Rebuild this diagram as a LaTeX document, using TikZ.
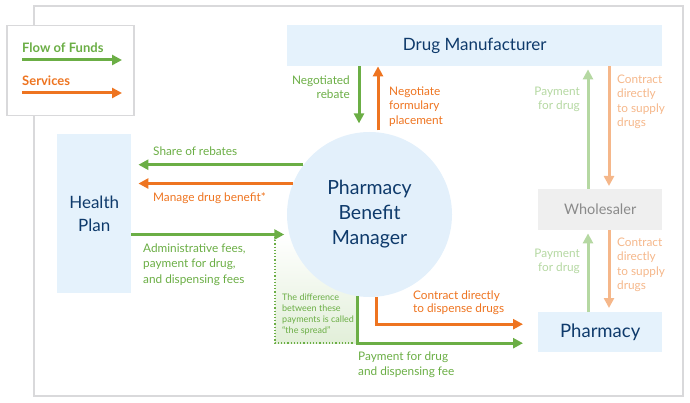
\documentclass[tikz,border=0pt]{standalone}
\usepackage{fontspec}
\setmainfont{Lato}
\usetikzlibrary{arrows.meta,calc}
\definecolor{fgreen}{HTML}{6BAE45}
\definecolor{forange}{HTML}{EE7420}
\definecolor{lgreen}{HTML}{B5D8A2}
\definecolor{lorange}{HTML}{F5B78A}
\definecolor{navy}{HTML}{0E3A6B}
\definecolor{boxblue}{HTML}{E5F2FC}
\definecolor{circblue}{HTML}{E3F0FB}
\definecolor{wsfill}{HTML}{EFEFEF}
\definecolor{wstext}{HTML}{8A8A8A}
\definecolor{framecol}{HTML}{D9D9DB}
\definecolor{spreadcol}{HTML}{E2EFD9}
\tikzset{
  tip/.style={-{Triangle[length=10pt,width=10pt]}},
  garrow/.style={tip, draw=fgreen, line width=3pt},
  oarrow/.style={tip, draw=forange, line width=3pt},
  lgarrow/.style={tip, draw=lgreen, line width=3pt},
  loarrow/.style={tip, draw=lorange, line width=3pt},
  entity/.style={fill=boxblue, text=navy, inner sep=0pt, font=\fontsize{17}{21}\selectfont},
  lbl/.style={inner sep=0pt, font=\fontsize{11.8}{14.5}\selectfont},
  lblL/.style={lbl, anchor=north west, align=left},
  lblR/.style={lbl, anchor=north east, align=right},
}
\begin{document}
\begin{tikzpicture}[x=1pt,y=-1pt]
\useasboundingbox (0,0) rectangle (690,403);
% outer frame
\draw[framecol, line width=1.5pt] (34,6) rectangle (683,396);
% legend
\node[draw=framecol, line width=1.5pt, fill=white, minimum width=127pt, minimum height=90pt, anchor=north west, inner sep=0pt] (legend) at (6,25) {};
\node[anchor=west, inner sep=0pt, text=fgreen, font=\fontsize{13}{15}\selectfont\bfseries] (lfunds) at (22,48) {Flow of Funds};
\node[anchor=west, inner sep=0pt, text=forange, font=\fontsize{13}{15}\selectfont\bfseries] (lserv) at (22,81) {Services};
\draw[garrow] ([yshift=-12pt]lfunds.west) -- ++(100,0);
\draw[oarrow] ([yshift=-12pt]lserv.west) -- ++(100,0);
% spread shading
\shade[bottom color=spreadcol, top color=white] (275,235) rectangle (359,343);
% entities
\node[entity, minimum width=375pt, minimum height=41pt, anchor=north west] (dm) at (287,25) {Drug Manufacturer};
\node[entity, minimum width=74pt, minimum height=159pt, anchor=north west, align=center, font=\fontsize{17}{23}\selectfont] (hp) at (57,134) {Health\\Plan};
\node[entity, fill=wsfill, text=wstext, minimum width=124pt, minimum height=41pt, anchor=north west, font=\fontsize{14.5}{18}\selectfont] (ws) at (538,189) {Wholesaler};
\node[entity, minimum width=124pt, minimum height=40pt, anchor=north west, font=\fontsize{18.5}{22}\selectfont] (ph) at (538,312) {Pharmacy};
\node[circle, fill=circblue, text=navy, minimum size=165pt, inner sep=0pt, align=center, font=\fontsize{19.5}{25}\selectfont] (pbm) at (369.5,214.5) {Pharmacy\\Benefit\\Manager};
% PBM <-> manufacturer
\draw[garrow, shorten >=1pt] ([xshift=72pt]dm.south west) -- ([xshift=72pt, yshift=-58pt]dm.south west);
\draw[oarrow] ([xshift=91pt, yshift=-64pt]dm.south west) -- ([xshift=91pt]dm.south west);
\node[lblR, text=fgreen] (lrebate) at (350,75.6) {Negotiated\\rebate};
\node[lblL, text=forange] (lformulary) at (389,86.6) {Negotiate\\formulary\\placement};
% manufacturer <-> wholesaler
\draw[lgarrow, shorten >=3pt] ([xshift=50pt]ws.north west) -- ([xshift=50pt]ws.north west |- dm.south);
\draw[loarrow, shorten >=3pt] ([xshift=322pt]dm.south west) -- ([xshift=71pt]ws.north west);
\node[lblR, text=lgreen] (lpay1) at (580,86.6) {Payment\\for drug};
\node[lblL, text=lorange] (lsup1) at (617,74.6) {Contract\\directly\\to supply\\drugs};
% wholesaler <-> pharmacy
\draw[lgarrow, shorten >=3pt] ([xshift=50pt]ph.north west) -- ([xshift=50pt]ws.south west);
\draw[loarrow, shorten >=4pt] ([xshift=71pt]ws.south west) -- ([xshift=71pt]ph.north west);
\node[lblR, text=lgreen] (lpay2) at (580,248.6) {Payment\\for drug};
\node[lblL, text=lorange] (lsup2) at (617,237.6) {Contract\\directly\\to supply\\drugs};
% PBM <-> health plan
\draw[garrow, shorten >=7pt] (pbm.143.13) -- (pbm.143.13 -| hp.east);
\draw[oarrow, shorten >=7pt] (pbm.158.3) -- (pbm.158.3 -| hp.east);
\draw[garrow, shorten >=5pt] (hp.east |- pbm.194.4) -- (pbm.194.4);
\node[lblL, text=fgreen] (lshare) at (153,146.6) {Share of rebates};
\node[lblL, text=forange] (lmanage) at (153,192.6) {Manage drug benefit*};
\node[lblL, text=fgreen, font=\fontsize{11.8}{15.5}\selectfont] (ladmin) at (143,243.6) {Administrative fees,\\payment for drug,\\and dispensing fees};
% PBM -> pharmacy
\draw[oarrow, shorten >=15pt] (pbm.275.9) |- ([yshift=8pt]ph.west);
\draw[garrow, shorten >=15pt] (pbm.262.7) |- ([yshift=-11pt]ph.west);
\node[lblL, text=forange, font=\fontsize{11.8}{13.8}\selectfont] (ldispense) at (413,290.3) {Contract directly\\to dispense drugs};
\node[lblL, text=fgreen, font=\fontsize{11.8}{15}\selectfont] (lpayfee) at (358,351.3) {Payment for drug\\and dispensing fee};
% spread
\coordinate (s1) at (275,237);
\coordinate (s2) at (275,343);
\coordinate (s3) at (354,343);
\draw[fgreen, line width=1.2pt, dotted] (s1) -- (s2) -- (s3);
\node[lblL, text=fgreen, font=\fontsize{9}{11}\selectfont] (lspread) at (282,294) {The difference\\between these\\payments is called\\``the spread''};
\end{tikzpicture}
\end{document}
